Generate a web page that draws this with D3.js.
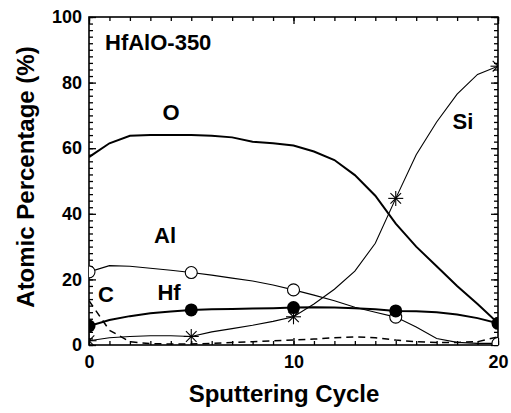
<!DOCTYPE html>
<html>
<head>
<meta charset="utf-8">
<script src="https://cdn.jsdelivr.net/npm/d3@7"></script>
<style>
  html, body { margin: 0; padding: 0; background: #fff; }
  svg { display: block; font-family: "Liberation Sans", Arial, Helvetica, sans-serif; font-weight: bold; }
</style>
</head>
<body>
<svg id="chart" width="511" height="413"></svg>
<script>
// sputtering cycles (curve vertices) and measured cycles (markers)
const cycles = [0, 1, 2, 3, 4, 5, 6, 7, 8, 9, 10, 11, 12, 13, 14, 15, 16, 17, 18, 19, 20];
const markCycles = [0, 5, 10, 15, 20];

// atomic percentage (%)
const oValues  = [57.3, 61.5, 63.8, 64, 64, 64, 63.8, 63.3, 62, 61.5, 60.8, 59, 56.4, 51.8, 45.5, 37, 30, 24, 18, 12.5, 6.7];
const siValues = [1.3, 2.2, 2.6, 2.8, 2.8, 2.6, 4, 5, 6, 7.2, 8.6, 12.5, 17, 22.5, 31, 44.7, 58, 68, 76.5, 82.5, 85];
const alValues = [22.3, 24.2, 24, 23.4, 22.8, 22.1, 21.3, 20.4, 19.5, 18.3, 16.8, 15.2, 13.5, 11.5, 10, 8.5, 5.5, 2, 0.8, 0.5, 0.5];
const hfValues = [5.8, 7.6, 8.8, 9.7, 10.2, 10.7, 10.9, 11, 11.1, 11.2, 11.4, 11.5, 11.4, 11.2, 10.9, 10.4, 10.3, 10, 9.3, 8.2, 6.6];
const cValues  = [13.5, 4.5, 1, 0.4, 0.3, 0.3, 0.5, 0.8, 1, 1.3, 1.5, 1.8, 2.2, 2.5, 2.2, 1.5, 1, 0.8, 0.8, 1, 2.5];

const xTicks = [0, 10, 20];
const yTicks = [0, 20, 40, 60, 80, 100];

const margin = { left: 89, top: 17, right: 13, bottom: 68 };
const W = 511, H = 413;
const w = W - margin.left - margin.right;
const h = H - margin.top - margin.bottom;

const svg = d3.select('#chart');
const g = svg.append('g').attr('transform', `translate(${margin.left},${margin.top})`);

const x = d3.scaleLinear().domain([0, 20]).range([0, w]);
const y = d3.scaleLinear().domain([0, 100]).range([h, 0]);

svg.append('defs').append('clipPath').attr('id', 'plotClip')
  .append('rect').attr('width', w).attr('height', h);

// ticks, all pointing inward
function tickAxis(axisFn, scale, values, len, labels) {
  const a = axisFn(scale).tickValues(values).tickSizeInner(-len).tickSizeOuter(0);
  if (!labels) a.tickFormat('');
  return a;
}
function styleAxis(sel) {
  sel.select('.domain').remove();
  sel.selectAll('.tick line').attr('stroke', '#000').attr('stroke-width', 1.3);
  sel.selectAll('.tick text').attr('fill', '#000').attr('font-size', 18).attr('font-weight', 'bold')
    .attr('font-family', '"Liberation Sans", Arial, sans-serif');
}

const xMinor = d3.range(0, 21, 1);
const yMinor = d3.range(0, 101, 2);

g.append('g').attr('transform', `translate(0,${h})`).call(tickAxis(d3.axisBottom, x, xMinor, 4, false)).call(styleAxis);
g.append('g').attr('transform', `translate(0,${h})`).call(tickAxis(d3.axisBottom, x, xTicks, 7, true).tickPadding(10)).call(styleAxis);
g.append('g').call(tickAxis(d3.axisTop, x, xMinor, 4, false)).call(styleAxis);
g.append('g').call(tickAxis(d3.axisTop, x, xTicks, 7, false)).call(styleAxis);

g.append('g').call(tickAxis(d3.axisLeft, y, yMinor, 4, false)).call(styleAxis);
g.append('g').call(tickAxis(d3.axisLeft, y, yTicks, 7, true).tickPadding(7)).call(styleAxis);
g.append('g').attr('transform', `translate(${w},0)`).call(tickAxis(d3.axisRight, y, yMinor, 4, false)).call(styleAxis);
g.append('g').attr('transform', `translate(${w},0)`).call(tickAxis(d3.axisRight, y, yTicks, 7, false)).call(styleAxis);

// frame
g.append('rect').attr('width', w).attr('height', h)
  .attr('fill', 'none').attr('stroke', '#000').attr('stroke-width', 1.6);

const plot = g.append('g').attr('clip-path', 'url(#plotClip)');

const line = d3.line().x((d) => x(d[0])).y((d) => y(d[1]));
const pairs = (vals) => cycles.map((c, i) => [c, vals[i]]);
const marks = (vals) => markCycles.map((c) => [c, vals[cycles.indexOf(c)]]);

const series = [
  { vals: cValues, width: 1.5, dash: '7,5' },
  { vals: alValues, width: 1.1 },
  { vals: siValues, width: 1.1 },
  { vals: hfValues, width: 2 },
  { vals: oValues, width: 2 },
];
series.forEach((s) => {
  plot.append('path').datum(pairs(s.vals)).attr('d', line)
    .attr('fill', 'none').attr('stroke', '#000').attr('stroke-width', s.width)
    .attr('stroke-dasharray', s.dash || null);
});

// Si asterisks
const star = 7.5;
marks(siValues).forEach(([c, v]) => {
  const sg = plot.append('g').attr('transform', `translate(${x(c)},${y(v)})`)
    .attr('stroke', '#000').attr('stroke-width', 1.1);
  [0, 45, 90, 135].forEach((a) => {
    const r = (a * Math.PI) / 180;
    sg.append('line')
      .attr('x1', -star * Math.cos(r)).attr('y1', -star * Math.sin(r))
      .attr('x2', star * Math.cos(r)).attr('y2', star * Math.sin(r));
  });
});

// Al open circles
plot.selectAll('.al').data(marks(alValues)).join('circle')
  .attr('cx', (d) => x(d[0])).attr('cy', (d) => y(d[1])).attr('r', 6)
  .attr('fill', '#fff').attr('stroke', '#000').attr('stroke-width', 1.1);

// Hf filled circles
plot.selectAll('.hf').data(marks(hfValues)).join('circle')
  .attr('cx', (d) => x(d[0])).attr('cy', (d) => y(d[1])).attr('r', 6.5)
  .attr('fill', '#000');

// labels inside the plot
const labels = [
  { t: 'HfAlO-350', px: 105, py: 50, anchor: 'start' },
  { t: 'O', px: 171, py: 120, anchor: 'middle' },
  { t: 'Si', px: 463, py: 129, anchor: 'middle' },
  { t: 'Al', px: 165, py: 243, anchor: 'middle' },
  { t: 'C', px: 106, py: 302, anchor: 'middle' },
  { t: 'Hf', px: 169, py: 300, anchor: 'middle' },
];
svg.selectAll('.lbl').data(labels).join('text')
  .attr('x', (d) => d.px).attr('y', (d) => d.py)
  .attr('text-anchor', (d) => d.anchor)
  .attr('font-size', 22).text((d) => d.t);

// axis titles
svg.append('text').attr('x', 284).attr('y', 402).attr('text-anchor', 'middle')
  .attr('font-size', 24).text('Sputtering Cycle');
svg.append('text').attr('transform', 'translate(34,177) rotate(-90)').attr('text-anchor', 'middle')
  .attr('font-size', 24).text('Atomic Percentage (%)');
</script>
</body>
</html>
